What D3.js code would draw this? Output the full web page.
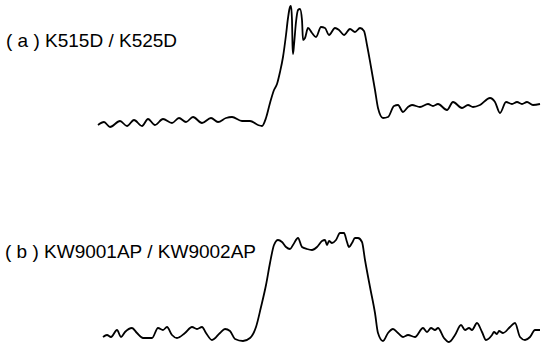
<!DOCTYPE html>
<html><head><meta charset="utf-8">
<script src="https://cdn.jsdelivr.net/npm/d3@7"></script>
<style>html,body{margin:0;padding:0;background:#fff;}svg{display:block;}</style>
</head><body><svg id="c" width="546" height="344"></svg>
<script>
const labels = ["( a ) K515D / K525D", "( b ) KW9001AP / KW9002AP"];
// time (arbitrary units)
const timeA = [1,7,13,23,30,37,45,51,58,66,75,82,89,96,105,114,121,129,135,145,153,161,165,169,173,177,180,183,186,189,191,193,194,195,195.5,196,197,199,201,203,205,206,208,211,215,219,224,228,232,238,242,247,253,258,263,267,270,274,278,281,286,291,297,301,306,311,315,323,331,336,341,350,356,365,371,376,383,393,398,403,409,415,420,425,430,436,443];
const ampA  = [0,3,-2,4,-1,5,-1,6,0,6,2,7,3,8,2,7,3,7,8,4,4,0,-1,7,22,35,41,53,68,90,107,118,119,105,80,71,80,103,115,116,105,85,87,97,92,88,98,97,90,97,95,90,96,93,97,94,80,58,35,17,7,8,19,20,13,18,20,18,21,19,21,15,23,17,20,18,20,27,23,12,23,21,23,21,23,20,21];
const timeB = [6,10,14,20,24,28,35,40,46,55,61,66,70,75,80,88,95,100,105,109,115,123,128,133,138,146,153,159,164,169,173,177,181,185,189,193,196,201,205,210,215,220,225,228,230,232,235,239,243,247,250,252,255,258,261,265,268,273,278,281,286,291,296,301,306,311,318,326,330,334,338,341,347,352,358,364,368,372,375,380,385,389,395,397,400,402,406,413,418,423,428,433,438,443];
const ampB  = [5,7,5,12,5,10,14,9,4,4,14,12,15,7,4,9,15,13,15,9,2,9,13,11,3,1,4,15,35,57,79,97,102,100,95,93,97,104,95,93,92,95,101,102,97,101,99,102,109,109,100,95,99,104,104,100,82,55,29,9,1,9,13,9,5,7,5,14,10,14,12,14,4,0,7,17,12,14,12,19,10,2,7,10,8,11,9,15,19,5,2,5,12,12];

const svg = d3.select("#c");
const x = d3.scaleLinear().domain([0,450]).range([97,547]);
const yA = d3.scaleLinear().domain([0,120]).range([125,5]);
const yB = d3.scaleLinear().domain([0,110]).range([342,232]);

function draw(ts, vs, y){
  const pts = ts.map((t,i)=>[t, vs[i]]);
  const line = d3.line().x(d=>x(d[0])).y(d=>y(d[1])).curve(d3.curveMonotoneX);
  svg.append("path").attr("d", line(pts)).attr("fill","none")
    .attr("stroke","#000").attr("stroke-width",1.8).attr("stroke-linejoin","round");
}
draw(timeA, ampA, yA);
draw(timeB, ampB, yB);

svg.append("text").attr("x",6).attr("y",47).text(labels[0])
  .attr("font-family","'Liberation Sans', Arial, sans-serif").attr("font-size",19).attr("fill","#000");
svg.append("text").attr("x",5).attr("y",258).text(labels[1])
  .attr("font-family","'Liberation Sans', Arial, sans-serif").attr("font-size",19).attr("fill","#000");
</script></body></html>
